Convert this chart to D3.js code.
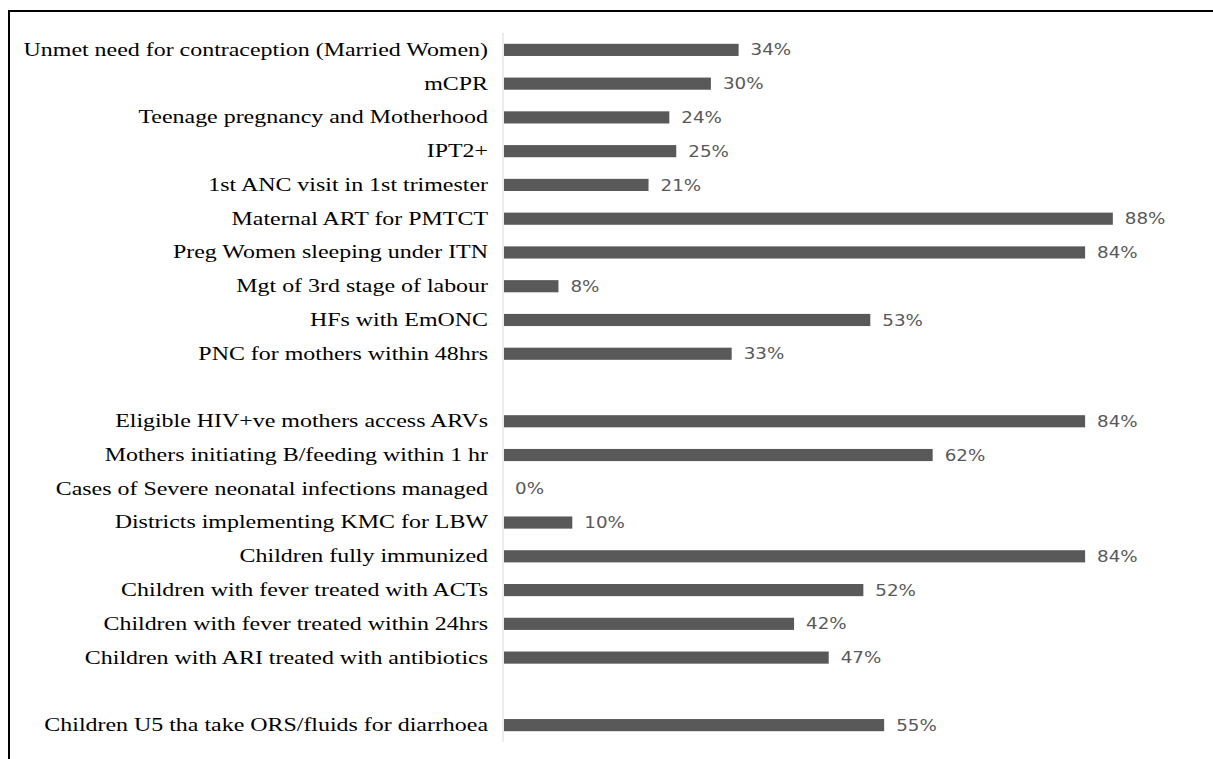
<!DOCTYPE html>
<html>
<head>
<meta charset="utf-8">
<script src="https://cdn.jsdelivr.net/npm/d3@7"></script>
<style>
  html, body { margin: 0; padding: 0; background: #fff; }
  svg { display: block; }
</style>
</head>
<body>
<svg id="chart" width="1213" height="759"></svg>
<script>
// indicator labels, top to bottom ("" = empty spacer row)
const categories = [
  "Unmet need for contraception (Married Women)",
  "mCPR",
  "Teenage pregnancy and Motherhood",
  "IPT2+",
  "1st ANC visit in 1st trimester",
  "Maternal ART for PMTCT",
  "Preg Women sleeping under ITN",
  "Mgt of 3rd stage of labour",
  "HFs with EmONC",
  "PNC for mothers within 48hrs",
  "",
  "Eligible HIV+ve mothers access ARVs",
  "Mothers initiating B/feeding within 1 hr",
  "Cases of Severe neonatal infections managed",
  "Districts implementing KMC for LBW",
  "Children fully immunized",
  "Children with fever treated with ACTs",
  "Children with fever treated within 24hrs",
  "Children with ARI treated with antibiotics",
  "",
  "Children U5 tha take ORS/fluids for diarrhoea"
];
// percentages, null for spacer rows
const values = [34, 30, 24, 25, 21, 88, 84, 8, 53, 33, null,
                84, 62, 0, 10, 84, 52, 42, 47, null, 55];

const rows = categories.map((c, i) => ({ id: i, label: c, value: values[i] }));

const svg = d3.select("#chart");

// frame (only top and left edges are visible in the picture)
svg.append("line").attr("x1", 8).attr("x2", 1213).attr("y1", 11).attr("y2", 11)
  .attr("stroke", "#000").attr("stroke-width", 2);
svg.append("line").attr("x1", 9).attr("x2", 9).attr("y1", 10).attr("y2", 759)
  .attr("stroke", "#000").attr("stroke-width", 2);

const x = d3.scaleLinear().domain([0, 100]).range([503, 1196]);
const y = d3.scaleBand().domain(rows.map(d => d.id)).range([33, 742]).paddingInner(0.64).paddingOuter(0.32);

// category axis line
svg.append("line")
  .attr("x1", x(0)).attr("x2", x(0))
  .attr("y1", 33).attr("y2", 742)
  .attr("stroke", "#d9d9d9").attr("stroke-width", 1);

const data = rows.filter(d => d.value !== null);

svg.append("g").selectAll("rect")
  .data(data)
  .join("rect")
  .attr("x", x(0) + 1)
  .attr("y", d => y(d.id))
  .attr("width", d => Math.max(0, x(d.value) - x(0) - 1))
  .attr("height", y.bandwidth())
  .attr("fill", "#595959");

// value labels (the source text is a bit wide, hence the x stretch)
svg.append("g").selectAll("text")
  .data(data)
  .join("text")
  .attr("transform", d => `translate(${x(d.value) + 12},${y(d.id) + y.bandwidth() / 2}) scale(1.18,1)`)
  .attr("dy", "0.36em")
  .attr("font-family", "'DejaVu Sans', Verdana, sans-serif")
  .attr("font-size", 15.5)
  .attr("fill", "#595959")
  .text(d => d.value + "%");

// category labels, stretched horizontally like the source
svg.append("g").selectAll("text")
  .data(rows.filter(d => d.label))
  .join("text")
  .attr("transform", d => `translate(488,${y(d.id) + y.bandwidth() / 2}) scale(1.33,1)`)
  .attr("dy", "0.33em")
  .attr("text-anchor", "end")
  .attr("font-family", "'Liberation Serif', 'Times New Roman', serif")
  .attr("font-size", 18)
  .attr("fill", "#000")
  .text(d => d.label);
</script>
</body>
</html>
